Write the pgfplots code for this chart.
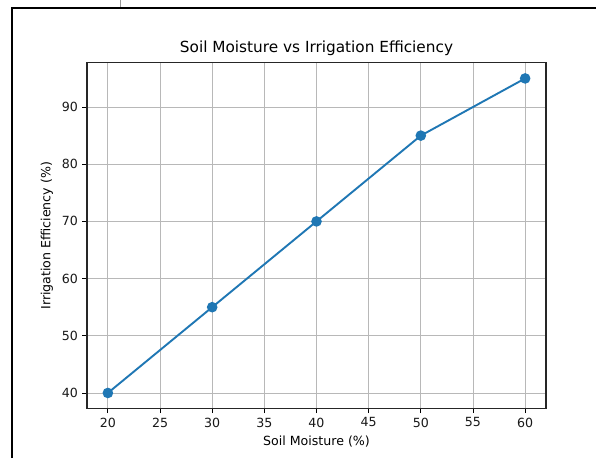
\documentclass[border=0pt]{standalone}
\usepackage{fontspec}
\setmainfont{DejaVu Sans}
\usepackage{pgfplots}
\pgfplotsset{compat=1.18}
\definecolor{mplblue}{HTML}{1F77B4}
\begin{document}
\begin{tikzpicture}[x=1pt,y=1pt]
\fill[white] (0,0) rectangle (596,458);
\useasboundingbox (0,0) rectangle (596,458);
\draw[line width=2pt, black] (11.5,0) -- (11.5,449.5) -- (596,449.5);
\draw[line width=0.6pt, black!40] (120,458) -- (120,450.5);
\begin{axis}[
  scale only axis,
  width=459pt, height=346pt,
  at={(87pt,49.3pt)}, anchor=south west,
  xmin=18, xmax=62, ymin=37.25, ymax=97.75,
  xtick={20,25,30,35,40,45,50,55,60},
  ytick={40,50,60,70,80,90},
  tick pos=left,
  tick align=outside,
  major tick length=4.5pt,
  every tick/.style={black, line width=0.8pt},
  axis line style={black!85, line width=1.1pt},
  grid=major,
  major grid style={color=black!28, line width=0.9pt},
  /pgf/number format/assume math mode=true,
  ticklabel style={font=\fontsize{12.6}{15}\selectfont, text=black!90},
  xticklabel style={yshift=-1pt},
  yticklabel style={xshift=-1pt},
  title={Soil Moisture vs Irrigation Efficiency},
  title style={at={(axis description cs:0.5,1)}, anchor=center, yshift=8.5pt, font=\fontsize{15.3}{18}\selectfont},
  xlabel={Soil Moisture (\%)},
  ylabel={Irrigation Efficiency (\%)},
  xlabel style={at={([yshift=-33pt]axis description cs:0.5,0)}, anchor=center, font=\fontsize{12.6}{15}\selectfont},
  ylabel style={at={([xshift=-40pt]axis description cs:0,0.5)}, anchor=center, font=\fontsize{12.6}{15}\selectfont},
]
\addplot[mplblue, line width=1.9pt, mark=*, mark size=4.3pt, mark options={fill=mplblue, draw=none}]
  coordinates {(20,40) (30,55) (40,70) (50,85) (60,95)};
\end{axis}
\end{tikzpicture}
\end{document}
